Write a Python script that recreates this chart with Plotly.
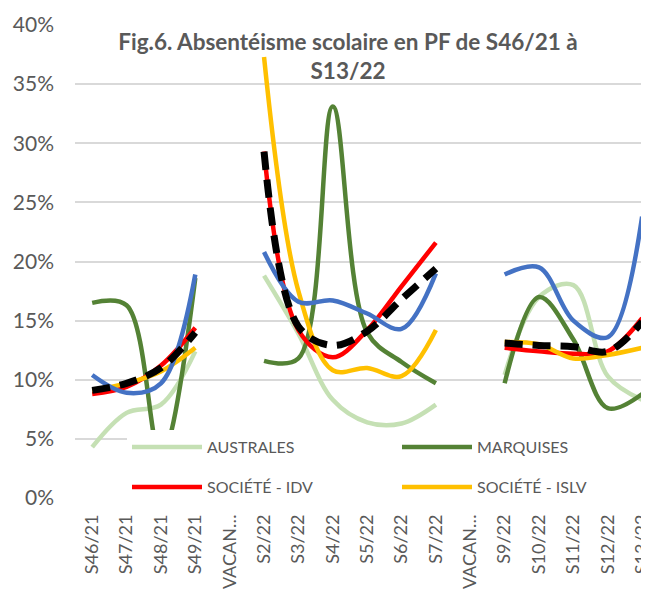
import plotly.graph_objects as go

categories = ["S46/21", "S47/21", "S48/21", "S49/21", "VACAN…", "S2/22", "S3/22", "S4/22",
              "S5/22", "S6/22", "S7/22", "VACAN…", "S9/22", "S10/22", "S11/22", "S12/22", "S13/22"]

australes = [4.3, 7.2, 7.9, 12.4, None, 18.8, 13.9, 8.3, 6.4, 6.3, 7.9, None, 10.4, 17.0, 18.0, 10.3, 8.3]
marquises = [16.5, 16.3, 3.5, 18.6, None, 11.6, 11.8, 33.1, 14.0, 11.5, 9.7, None, 9.7, 17.0, 13.4, 7.6, 8.8]
societe_idv = [8.8, 9.4, 11.2, 14.4, None, 29.3, 14.2, 11.9, 14.2, 17.9, 21.6, None, 12.7, 12.4, 12.2, 12.4, 15.2]
societe_islv = [9.1, 9.7, 10.7, 12.7, None, 37.3, 17.5, 10.8, 11.0, 10.3, 14.2, None, 13.2, 13.0, 11.8, 12.1, 12.7]
tuamotu = [10.4, 8.9, 9.7, 18.9, None, 20.8, 16.6, 16.7, 15.6, 14.3, 19.0, None, 18.9, 19.5, 15.0, 13.6, 23.8]
pf_total = [9.1, 9.7, 11.0, 14.0, None, 29.3, 14.5, 12.9, 14.1, 16.8, 19.4, None, 13.1, 12.9, 12.8, 12.4, 14.9]

y_ticks = [0, 5, 10, 15, 20, 25, 30, 35, 40]

x = list(range(len(categories)))
FONT = "Lato"
GREY = "#595959"

OFF = 8  # page body margin
W, H = 649 - OFF, 592 - OFF
L, T = 75 - OFF, 25 - OFF
B = H - (498 - OFF)
PW = W - L
PH = H - T - B

fig = go.Figure()

def add(name, values, color, width, legend=None, dash=None):
    fig.add_trace(go.Scatter(
        x=x, y=values, name=name, mode="lines",
        line=dict(color=color, width=width, shape="spline", smoothing=1.0, dash=dash),
        connectgaps=False, showlegend=legend is not None, legend=legend or "legend",
        hoverinfo="skip"))

add("AUSTRALES", australes, "#C5E0B4", 4.5, "legend")
add("MARQUISES", marquises, "#548235", 4.5, "legend2")
add("SOCIÉTÉ - IDV", societe_idv, "#FF0000", 4.5, "legend3")
add("SOCIÉTÉ - ISLV", societe_islv, "#FFC000", 4.5, "legend4")
add("TUAMOTU", tuamotu, "#4472C4", 4.5)
add("PF", pf_total, "#000000", 7, dash="18px,10px")


def leg(win_x, win_y):
    px_x, px_y = win_x - OFF, win_y - OFF
    return dict(orientation="h", xanchor="left", yanchor="top", bgcolor="white",
                x=(px_x - L) / PW, y=(H - B - px_y) / PH,
                font=dict(family=FONT, size=16, color=GREY),
                entrywidth=190, entrywidthmode="pixels", itemwidth=70,
                itemclick=False, itemdoubleclick=False)


fig.update_layout(
    width=W, height=H,
    margin=dict(l=L, r=0, t=T, b=B, autoexpand=False),
    paper_bgcolor="white", plot_bgcolor="white",
    font=dict(family=FONT, color=GREY),
    title=dict(text="<b>Fig.6. Absentéisme scolaire en PF de S46/21 à<br>S13/22</b>",
               x=(348 - OFF - L) / PW, xref="paper", xanchor="center",
               y=1 - 42 / H, yref="container", yanchor="top",
               font=dict(family=FONT, size=22.5, color=GREY)),
    legend=leg(127, 430),
    legend2=leg(397, 430),
    legend3=leg(127, 470),
    legend4=leg(397, 470),
    xaxis=dict(range=[-0.5, 16.2], tickmode="array", tickvals=x, ticktext=categories,
               tickangle=-90, showgrid=False, zeroline=False, showline=False,
               ticks="", ticklabelstandoff=12, automargin=False,
               ticklabeloverflow="allow",
               tickfont=dict(family=FONT, size=18, color=GREY), fixedrange=True),
    yaxis=dict(range=[0, 40], tickmode="array", tickvals=y_ticks,
               ticktext=[f"{v}%" for v in y_ticks],
               showgrid=True, gridcolor="#D9D9D9", gridwidth=1.5,
               zeroline=False, showline=False, ticks="", ticklabelstandoff=20,
               automargin=False,
               tickfont=dict(family=FONT, size=21, color=GREY), fixedrange=True),
)

fig.write_html("out.html")
